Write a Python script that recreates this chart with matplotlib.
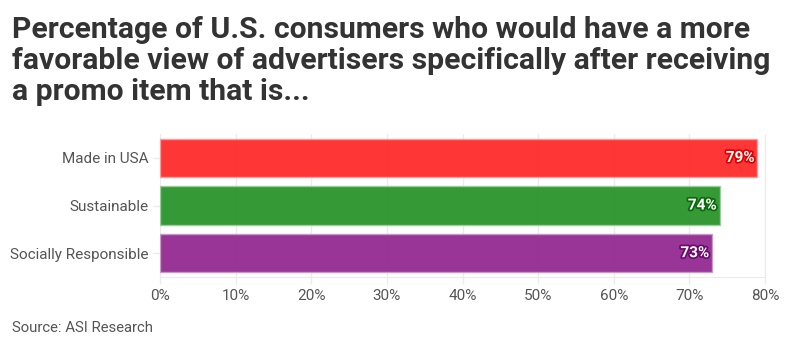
import matplotlib.pyplot as plt
import matplotlib.patheffects as pe
from matplotlib.ticker import FuncFormatter

categories = ["Made in USA", "Sustainable", "Socially Responsible"]
values = [79, 74, 73]
colors = ["#ff2f2f", "#2e962e", "#952e93"]
edge_colors = ["#ff9a9a", "#9ccc9c", "#c79bc6"]
stroke_colors = ["#e00000", "#0a6a0a", "#6a0a6a"]

fig = plt.figure(figsize=(7.94, 3.47), dpi=100)
ax = fig.add_axes([0.2015, 0.2017, 0.762, 0.412])

ypos = range(len(categories))
ax.barh(ypos, values, height=0.8, color=colors, edgecolor=edge_colors,
        linewidth=1, alpha=0.97, zorder=2)

for y, v, sc in zip(ypos, values, stroke_colors):
    ax.text(v - 0.4, y, f"{v}%", ha="right", va="center", color="white",
            fontsize=11, fontweight="bold", family="Roboto", zorder=3,
            path_effects=[pe.withStroke(linewidth=2.5, foreground=sc)])

ax.set_xlim(0, 80)
ax.set_ylim(2.5, -0.5)
ax.set_xticks(range(0, 81, 10))
ax.xaxis.set_major_formatter(FuncFormatter(lambda x, p: f"{x:.0f}%"))
ax.set_yticks(list(ypos))
ax.set_yticklabels(categories)
ax.grid(axis="x", color="#ebebeb", linewidth=1, zorder=0)
for s in ["top", "left"]:
    ax.spines[s].set_visible(False)
for s in ["bottom", "right"]:
    ax.spines[s].set_color("#ebebeb")
ax.tick_params(axis="both", colors="#ebebeb", labelcolor="#555555",
               labelsize=11, length=5, width=1)
for lab in ax.get_xticklabels() + ax.get_yticklabels():
    lab.set_family("Roboto")

fig.text(0.015, 0.955, "Percentage of U.S. consumers who would have a more\n"
         "favorable view of advertisers specifically after receiving\n"
         "a promo item that is...", ha="left", va="top", fontsize=21.7,
         fontweight="bold", family="Roboto", color="#333333", linespacing=1.15)
fig.text(0.015, 0.055, "Source: ASI Research", ha="left", va="center",
         fontsize=10.7, family="Roboto", color="#555555")

fig.savefig("out.png", dpi=100)
